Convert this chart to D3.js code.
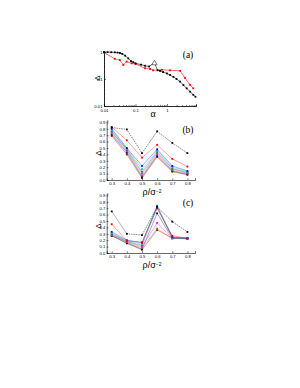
<!DOCTYPE html>
<html>
<head>
<meta charset="utf-8">
<script src="https://cdn.jsdelivr.net/npm/d3@7"></script>
<style>
  body { margin: 0; background: #fff; }
  .tick text { font-family: "Liberation Sans", Arial, sans-serif; }
</style>
</head>
<body>
<div id="chart"></div>
<script>
// panel (a) : Delta vs alpha, log-log
const aBlack = [[0.01,1.0],[0.013,0.99],[0.017,0.98],[0.022,0.97],[0.027,0.95],[0.032,0.92],[0.038,0.85],[0.047,0.73],[0.059,0.58],[0.072,0.46],[0.085,0.42],[0.1,0.38],[0.15,0.34],[0.2,0.31],[0.27,0.29],[0.4,0.4],[0.5,0.21],[0.6,0.2],[0.75,0.18],[1.0,0.16],[1.25,0.14],[1.6,0.12],[2.0,0.1],[2.6,0.08],[3.3,0.06],[4.2,0.045],[5.4,0.034],[6.8,0.026],[8,0.022]]
const aBlackPeak = 15 // index of the open triangle
const aRed = [[0.01,0.95],[0.022,0.56],[0.032,0.5],[0.041,0.33],[0.052,0.44],[0.075,0.38],[0.1,0.36],[0.2,0.25],[0.29,0.235],[0.36,0.21],[0.68,0.22],[1.24,0.21],[2.6,0.2],[3.7,0.11],[5.4,0.06],[6.8,0.045]]

// panels (b) and (c) : Delta vs rho
const rho = [0.3, 0.4, 0.5, 0.6, 0.7, 0.8]
const seriesColors = ["#000000","#ff0000","#0000ff","#00c8c8","#00a000","#ff00ff","#808000","#000080","#800000"]
const bValues = [
  [0.82,0.79,0.42,0.76,0.58,0.42],
  [0.83,0.62,0.35,0.55,0.33,0.21],
  [0.80,0.50,0.22,0.48,0.22,0.14],
  [0.78,0.49,0.17,0.46,0.20,0.13],
  [0.76,0.48,0.13,0.44,0.18,0.12],
  [0.75,0.47,0.10,0.42,0.17,0.11],
  [0.73,0.45,0.07,0.40,0.15,0.10],
  [0.71,0.43,0.05,0.38,0.14,0.09],
  [0.69,0.40,0.03,0.36,0.13,0.08]
]
const cValues = [
  [0.65,0.30,0.28,0.72,0.49,0.33],
  [0.45,0.19,0.17,0.70,0.27,0.23],
  [0.33,0.20,0.16,0.73,0.25,0.23],
  [0.31,0.19,0.14,0.74,0.24,0.23],
  [0.30,0.18,0.12,0.70,0.24,0.23],
  [0.29,0.18,0.10,0.47,0.23,0.23],
  [0.28,0.17,0.08,0.38,0.23,0.23],
  [0.27,0.16,0.06,0.62,0.23,0.23],
  [0.27,0.15,0.05,0.36,0.23,0.22]
]
const rhoTicks = [0.3, 0.4, 0.5, 0.6, 0.7, 0.8]
const deltaTicks = [0, 0.1, 0.2, 0.3, 0.4, 0.5, 0.6, 0.7, 0.8, 0.9]
const logTicks = [0.01, 0.1, 1]

const svg = d3.select("#chart").append("svg")
    .attr("width", 300).attr("height", 388)

const fs = 4.2 // tick label size
const ms = 1.8 // marker size

function styleAxis(g) {
    g.select(".domain").attr("stroke", "#000").attr("stroke-width", 0.6)
    g.selectAll(".tick line").attr("stroke", "#000").attr("stroke-width", 0.5)
    g.selectAll(".tick text").attr("font-size", fs).attr("fill", "#000")
}

function minorLog(lo, hi) {
    let out = []
    for (let d = lo; d < hi; d *= 10)
        for (let k = 2; k <= 9; k++) if (d * k <= hi) out.push(d * k)
    return out
}

// ---------- panel (a)
const xA = d3.scaleLog().domain([0.01, 8.3]).range([104, 196])
const yA = d3.scaleLog().domain([0.01, 1]).range([106, 52])

svg.append("g").attr("transform", "translate(0,106)")
    .call(d3.axisBottom(xA).tickValues(minorLog(0.01, 8.3)).tickSize(-1).tickFormat(""))
    .call(styleAxis)
svg.append("g").attr("transform", "translate(0,106)")
    .call(d3.axisBottom(xA).tickValues(logTicks).tickSize(-2).tickPadding(3)
        .tickFormat(d => d >= 1 ? d3.format("d")(d) : String(d)))
    .call(styleAxis)
svg.append("g").attr("transform", "translate(104,0)")
    .call(d3.axisLeft(yA).tickValues(minorLog(0.01, 1)).tickSize(-1).tickFormat(""))
    .call(styleAxis)
svg.append("g").attr("transform", "translate(104,0)")
    .call(d3.axisLeft(yA).tickValues(logTicks).tickSize(-2).tickPadding(1.5)
        .tickFormat(d => d >= 1 ? d3.format("d")(d) : String(d)))
    .call(styleAxis)

const lineA = d3.line().x(d => xA(d[0])).y(d => yA(d[1]))
const drawA = (data, color) => {
    svg.append("path").datum(data).attr("d", lineA)
        .attr("fill", "none").attr("stroke", color).attr("stroke-width", 0.6)
    svg.append("g").selectAll("rect").data(data).join("rect")
        .attr("x", d => xA(d[0]) - ms / 2).attr("y", d => yA(d[1]) - ms / 2)
        .attr("width", ms).attr("height", ms).attr("fill", color)
}
drawA(aRed, "#ff0000")
drawA(aBlack, "#000000")
svg.append("path")
    .attr("d", d3.symbol(d3.symbolTriangle, 12)())
    .attr("transform", `translate(${xA(aBlack[aBlackPeak][0])},${yA(aBlack[aBlackPeak][1]) + 0.5})`)
    .attr("fill", "#fff").attr("stroke", "#000").attr("stroke-width", 0.5)

svg.append("text").attr("x", 153).attr("y", 117).attr("text-anchor", "middle")
    .attr("font-family", "Liberation Serif, serif").attr("font-size", 10).text("α")
svg.append("text").attr("transform", "translate(100,78) rotate(-90)").attr("text-anchor", "middle")
    .attr("font-family", "Liberation Sans, sans-serif").attr("font-size", 8).text("Δ")
svg.append("text").attr("x", 188).attr("y", 58).attr("text-anchor", "middle")
    .attr("font-family", "Liberation Serif, serif").attr("font-size", 9.5).text("(a)")

// ---------- panels (b), (c)
const xR = d3.scaleLinear().domain([0.267, 0.85]).range([106.7, 195])

function rhoPanel(values, y0, label) {
    const y = d3.scaleLinear().domain([0, 0.93]).range([y0, y0 - 0.93 * 64])
    svg.append("g").attr("transform", `translate(0,${y0})`)
        .call(d3.axisBottom(xR).tickValues(rhoTicks).tickSize(-1.8).tickPadding(2.3).tickFormat(d3.format(".1f")))
        .call(styleAxis)
    svg.append("g").attr("transform", "translate(106.7,0)")
        .call(d3.axisLeft(y).tickValues(deltaTicks).tickSize(-1.8).tickPadding(1.3).tickFormat(d3.format(".1f")))
        .call(styleAxis)

    const line = d3.line().x((d, i) => xR(rho[i])).y(d => y(d))
    // draw bottom series first so black ends on top
    values.slice().reverse().forEach((vals, ri) => {
        const k = values.length - 1 - ri
        const color = seriesColors[k]
        svg.append("path").datum(vals).attr("d", line)
            .attr("fill", "none").attr("stroke", color)
            .attr("stroke-opacity", k === 0 ? 0.75 : 0.6)
            .attr("stroke-width", 0.6)
            .attr("stroke-dasharray", k === 0 ? "1.6,0.8" : null)
        svg.append("g").selectAll("rect").data(vals).join("rect")
            .attr("x", (d, i) => xR(rho[i]) - ms / 2).attr("y", d => y(d) - ms / 2)
            .attr("width", ms).attr("height", ms).attr("fill", color)
    })

    const t = svg.append("text").attr("x", 152).attr("y", y0 + 15).attr("text-anchor", "middle")
        .attr("font-family", "Liberation Sans, sans-serif").attr("font-size", 9)
    t.append("tspan").text("ρ/σ")
    t.append("tspan").attr("font-size", 5).attr("dy", -2.5).text("−2")
    svg.append("text").attr("transform", `translate(101,${y0 - 27}) rotate(-90)`).attr("text-anchor", "middle")
        .attr("font-family", "Liberation Sans, sans-serif").attr("font-size", 8).text("Δ")
    svg.append("text").attr("x", 188).attr("y", y0 - 47).attr("text-anchor", "middle")
        .attr("font-family", "Liberation Serif, serif").attr("font-size", 9.5).text(label)
}

rhoPanel(bValues, 180, "(b)")
rhoPanel(cValues, 253, "(c)")
</script>
</body>
</html>
